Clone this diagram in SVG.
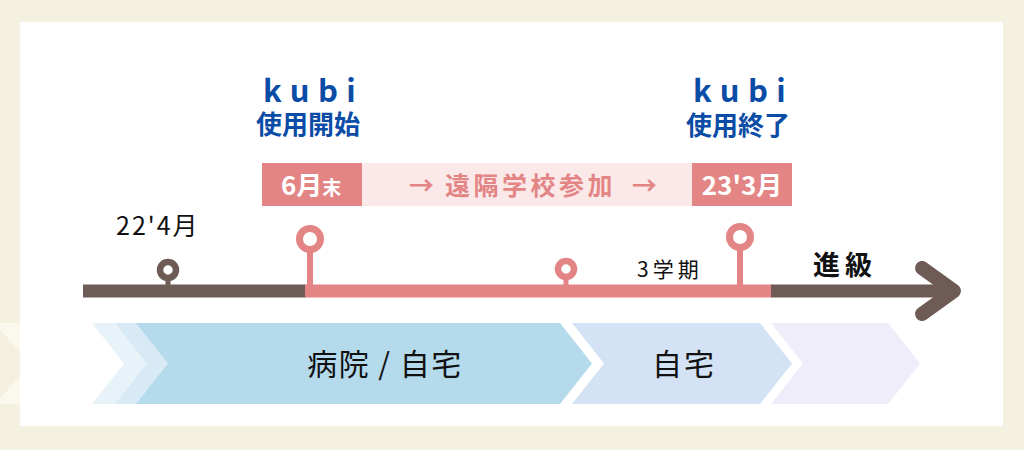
<svg xmlns="http://www.w3.org/2000/svg" width="1024" height="450" viewBox="0 0 1024 450">
<style>
.t{font-family:"Noto Sans CJK JP","Noto Sans",sans-serif}
.blue{fill:#0b4ca6;font-weight:bold}
.wt{fill:#ffffff;font-weight:bold}
.blk{fill:#111111}
.pk{fill:#e38585}
.pks{stroke:#e38585;fill:none}
.brs{stroke:#6e5b55;fill:none}
</style>
<rect x="0" y="0" width="1024" height="450" fill="#f5f1e1"/>
<g id="bg-chevron">
<rect x="0" y="323" width="20" height="81" fill="#fbf8ee"/>
<polygon points="0,330 20,352 20,376 0,398" fill="#f5f1e1"/>
</g>
<rect x="20" y="22" width="983" height="404" fill="#ffffff"/>

<g id="phases">
<polygon points="92,323 200,323 200,404 92,404 124,363.5" fill="#e8f2f9"/>
<polygon points="115,323 200,323 200,404 115,404 147,363.5" fill="#d8eaf5"/>
<g id="phase-hospital">
<polygon points="136,323 560,323 592,363.5 560,404 136,404 168,363.5" fill="#b5daec"/>
<text class="t blk" x="385" y="375" font-size="30" letter-spacing="1.5" text-anchor="middle">病院 / 自宅</text>
</g>
<g id="phase-home">
<polygon points="572,323 760,323 792,363.5 760,404 572,404 604,363.5" fill="#d3e2f4"/>
<text class="t blk" x="684" y="375" font-size="30" letter-spacing="2" text-anchor="middle">自宅</text>
</g>
<g id="phase-next">
<polygon points="771,323 888,323 920,363.5 888,404 771,404 803,363.5" fill="#f0edfb"/>
</g>
</g>

<g id="connectors">
<line class="brs" x1="83" y1="291" x2="306" y2="291" stroke-width="13"/>
<line class="pks" x1="305" y1="291" x2="772" y2="291" stroke-width="13"/>
<line class="brs" x1="771" y1="291" x2="950" y2="291" stroke-width="13"/>
<polyline class="brs" points="922,268 954,291 922,314" stroke-width="14" stroke-linecap="round" stroke-linejoin="round"/>
</g>

<g id="node-2204">
<line class="brs" x1="168" y1="276" x2="168" y2="286" stroke-width="5"/>
<circle class="brs" cx="168" cy="270" r="8" stroke-width="6.5"/>
<text class="t blk" x="116" y="235" font-size="25" letter-spacing="2">22'4月</text>
</g>

<g id="node-start">
<line class="pks" x1="310" y1="248" x2="310" y2="288" stroke-width="6"/>
<circle class="pks" cx="310" cy="239" r="10.5" stroke-width="7"/>
<rect x="262" y="163" width="100" height="43" fill="#e38585"/>
<text class="t wt" x="281" y="195" font-size="26">6月<tspan font-size="19">末</tspan></text>
<text class="t blue" x="263" y="102" font-size="31" letter-spacing="8.5">kubi</text>
<text class="t blue" x="308" y="134" font-size="26" text-anchor="middle">使用開始</text>
</g>

<g id="node-remote">
<rect x="362" y="163" width="330" height="43" fill="#fbe9ea"/>
<text class="t pk" x="409" y="195" font-size="25" font-weight="bold">→</text>
<text class="t pk" x="445" y="195" font-size="25" font-weight="bold" letter-spacing="3.5">遠隔学校参加</text>
<text class="t pk" x="632" y="195" font-size="25" font-weight="bold">→</text>
</g>

<g id="node-term3">
<line class="pks" x1="566" y1="276" x2="566" y2="288" stroke-width="5"/>
<circle class="pks" cx="566" cy="269" r="8" stroke-width="6.5"/>
<text class="t blk" x="637" y="277" font-size="21" letter-spacing="4">3学期</text>
</g>

<g id="node-end">
<line class="pks" x1="740" y1="246" x2="740" y2="288" stroke-width="6"/>
<circle class="pks" cx="740" cy="237" r="10.5" stroke-width="7"/>
<rect x="692" y="163" width="100" height="43" fill="#e38585"/>
<text class="t wt" x="742" y="195" font-size="26" text-anchor="middle">23'3月</text>
<text class="t blue" x="693" y="102" font-size="31" letter-spacing="8.5">kubi</text>
<text class="t blue" x="738" y="135" font-size="26" text-anchor="middle">使用終了</text>
</g>

<g id="node-promote">
<text class="t blk" x="813" y="275" font-size="27" font-weight="bold" letter-spacing="5">進級</text>
</g>
</svg>
